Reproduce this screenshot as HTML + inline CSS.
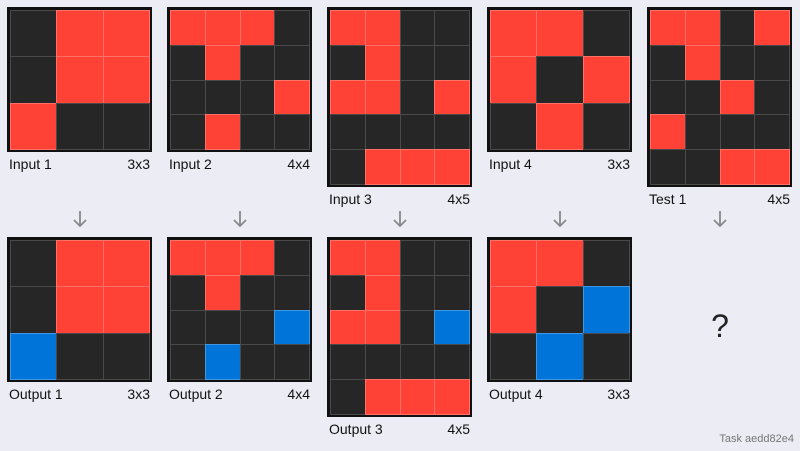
<!DOCTYPE html>
<html><head><meta charset="utf-8"><style>
body{margin:0;width:800px;height:451px;background:#ececf4;font-family:"Liberation Sans",sans-serif;position:relative;overflow:hidden}
.g{position:absolute;background:#111;box-sizing:border-box}
.c{position:absolute;box-sizing:border-box;border:1px solid #555}
.lab{position:absolute;font-size:14px;color:#111}
.arr{position:absolute;width:20px;height:20px}
</style></head><body>
<script>
const grids=[
 {name:'Input 1',col:0,row:0,g:["011","011","100"]},
 {name:'Input 2',col:1,row:0,g:["1110","0100","0001","0100"]},
 {name:'Input 3',col:2,row:0,g:["1100","0100","1101","0000","0111"]},
 {name:'Input 4',col:3,row:0,g:["110","101","010"]},
 {name:'Test 1',col:4,row:0,g:["1101","0100","0010","1000","0011"]},
 {name:'Output 1',col:0,row:1,g:["011","011","200"]},
 {name:'Output 2',col:1,row:1,g:["1110","0100","0002","0200"]},
 {name:'Output 3',col:2,row:1,g:["1100","0100","1102","0000","0111"]},
 {name:'Output 4',col:3,row:1,g:["110","102","020"]}
];
const colors=['#262626','#ff4136','#0074d9'];
grids.forEach(o=>{
 const rows=o.g.length,cols=o.g[0].length;
 const x0=7+160*o.col,y0=o.row?237:7;
 const cs=139/cols;
 const d=document.createElement('div');d.className='g';
 
 
 d.style.left=x0+'px';d.style.top=y0+'px';d.style.width='145px';d.style.height=(cs*rows+6)+'px';
 document.body.appendChild(d);
 o.g.forEach((r,ri)=>[...r].forEach((v,ci)=>{
  const c=document.createElement('div');c.className='c';
  
  
  c.style.left=(3+ci*cs)+'px';c.style.top=(3+ri*cs)+'px';c.style.width=(cs+1)+'px';c.style.height=(cs+1)+'px';
  c.style.background=colors[+v];
  c.style.borderColor=v=='0'?'#4a4a4a':'rgba(255,255,255,0.25)';
  d.appendChild(c);
 }));
 const ly=y0+cs*rows+6+4;
 const l=document.createElement('div');l.className='lab';l.textContent=o.name;
 
 
 l.style.left=(x0+2)+'px';l.style.top=ly+'px';document.body.appendChild(l);
 const s=document.createElement('div');s.className='lab';s.textContent=cols+'x'+rows;
 
 
 s.style.left=(x0+100)+'px';s.style.width='43px';s.style.textAlign='right';s.style.top=ly+'px';document.body.appendChild(s);
});
for(let i=0;i<5;i++){
 const a=document.createElementNS('http://www.w3.org/2000/svg','svg');
 a.setAttribute('class','arr');
 
 
 a.setAttribute('viewBox','0 0 20 20');
 a.style.left=(70+160*i)+'px';a.style.top='209px';
 a.innerHTML='<path d="M10 2 V17 M4 11 L10 17 L16 11" stroke="#888" stroke-width="1.8" fill="none"/>';
 document.body.appendChild(a);
}
</script>
<div style="position:absolute;left:700px;top:308px;width:40px;text-align:center;font-size:32px;color:#222">?</div>
<div style="position:absolute;right:6px;top:433px;font-size:11px;color:#777">Task aedd82e4</div>
</body></html>
